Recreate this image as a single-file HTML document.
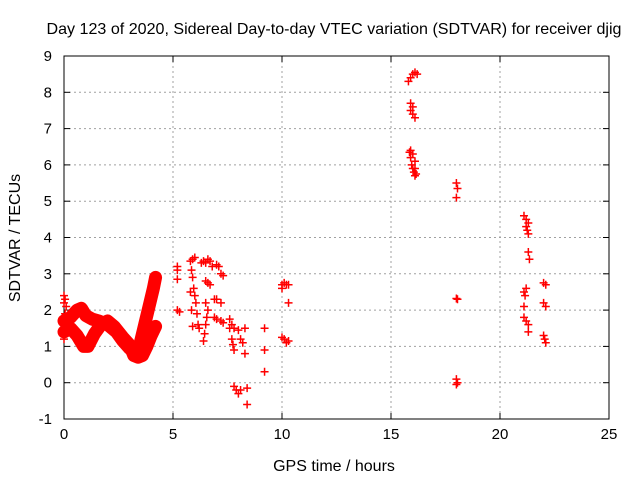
<!DOCTYPE html>
<html><head><meta charset="utf-8"><style>
body{margin:0;background:#fff}
svg{display:block;font-family:"Liberation Sans",sans-serif}
</style></head><body>
<svg id="chart" width="640" height="480">
<text x="334" y="34" text-anchor="middle" font-size="16" textLength="575" lengthAdjust="spacingAndGlyphs">Day 123 of 2020, Sidereal Day-to-day VTEC variation (SDTVAR) for receiver djig</text>
<text x="334" y="471" text-anchor="middle" font-size="16">GPS time / hours</text>
<text transform="translate(20,238) rotate(-90)" text-anchor="middle" font-size="16">SDTVAR / TECUs</text>
<g id="grid"></g><g id="axes"></g><g id="marks"></g>
</svg>
<script>
const xTicks=[0,5,10,15,20,25];
const yTicks=[-1,0,1,2,3,4,5,6,7,8,9];
const bandUpperX=[0,0.3,0.6,0.8,1.0,1.3,1.6,2.0,2.4,2.7,3.0,3.3,3.5,3.7,3.9,4.1,4.2];
const bandUpperY=[1.7,1.8,2.0,2.05,1.85,1.75,1.7,1.6,1.4,1.15,0.95,0.8,1.1,1.6,2.1,2.6,2.9];
const bandLowerX=[0,0.3,0.6,0.9,1.1,1.4,1.7,2.0,2.3,2.7,3.0,3.2,3.4,3.6,3.8,4.0,4.2];
const bandLowerY=[1.4,1.5,1.3,1.0,1.0,1.35,1.6,1.7,1.55,1.25,1.05,0.75,0.7,0.75,1.0,1.3,1.55];
const ptsX=[0,0,0,0,0.05,0.05,0.05,0.1,5.2,5.2,5.2,5.3,5.2,5.8,5.9,6.0,5.85,5.9,5.95,6.0,6.05,6.1,6.15,6.2,5.8,5.85,5.9,6.3,6.4,6.5,6.6,6.7,6.8,6.5,6.6,6.7,6.5,6.6,6.55,6.5,6.45,6.4,6.9,7.0,7.2,7.2,7.3,6.9,7.0,7.2,7.3,7.0,7.1,7.6,7.7,7.6,7.8,7.7,7.75,7.8,8.0,8.1,8.2,7.8,7.9,8.0,8.1,8.3,8.4,8.4,8.3,9.2,9.2,9.2,10.0,10.1,10.2,10.3,10.0,10.3,10.0,10.1,10.2,10.3,15.8,15.9,16.0,16.1,16.2,15.9,15.9,16.0,16.0,16.1,15.85,15.9,15.95,16.0,16.05,16.1,15.9,16.0,16.1,16.1,16.15,18.0,18.05,18.0,18.05,18.0,18.0,18.05,18.0,21.1,21.2,21.2,21.25,21.3,21.3,21.3,21.35,21.1,21.15,21.1,21.1,21.2,21.3,21.3,21.2,22.0,22.1,22.0,22.1,22.0,22.05,22.1];
const ptsY=[2.4,2.2,1.3,1.2,2.3,1.9,1.5,2.1,3.1,2.85,2.0,1.95,3.2,3.35,3.4,3.45,3.1,2.9,2.6,2.4,2.2,1.9,1.6,1.5,2.5,2.0,1.55,3.3,3.35,3.3,3.4,3.35,3.2,2.8,2.75,2.7,2.2,2.0,1.8,1.6,1.35,1.15,2.3,2.3,2.2,3.0,2.95,1.8,1.75,1.7,1.65,3.25,3.2,1.75,1.6,1.5,1.5,1.2,1.05,0.9,1.45,1.2,1.1,-0.1,-0.2,-0.3,-0.2,1.5,-0.15,-0.6,0.8,1.5,0.9,0.3,2.7,2.75,2.7,2.7,2.6,2.2,1.25,1.2,1.1,1.15,8.3,8.4,8.5,8.55,8.5,7.7,7.5,7.6,7.4,7.3,6.35,6.2,6.0,5.9,5.8,5.7,6.4,6.3,6.1,5.9,5.75,5.5,5.35,5.1,2.3,2.32,0.1,0.0,-0.05,4.6,4.5,4.3,4.2,4.4,4.1,3.6,3.4,2.5,2.4,2.1,1.8,1.7,1.6,1.4,2.6,2.75,2.7,2.2,2.1,1.3,1.2,1.1];
const L=64,R=609,T=56,B=419;
const sx=v=>L+(v-0)/25*(R-L);
const sy=v=>B-(v+1)/10*(B-T);
const NS='http://www.w3.org/2000/svg';
function mk(tag,attrs,parent){const e=document.createElementNS(NS,tag);for(const k in attrs)e.setAttribute(k,attrs[k]);parent.appendChild(e);return e;}
const grid=document.getElementById('grid'),axes=document.getElementById('axes'),marks=document.getElementById('marks');
xTicks.forEach(t=>{const x=sx(t);
 if(t>0&&t<25){const g=mk('line',{x1:x,x2:x,y1:T,y2:B,stroke:'#a0a0a0','stroke-dasharray':'2,3'},grid);}
 mk('line',{x1:x,x2:x,y1:B,y2:B-6,stroke:'#000'},axes);mk('line',{x1:x,x2:x,y1:T,y2:T+6,stroke:'#000'},axes);
 const tx=mk('text',{x:x,y:B+20,'text-anchor':'middle','font-size':15},axes);tx.textContent=t;
 });
yTicks.forEach(t=>{const y=sy(t);
 if(t>-1&&t<9){const g=mk('line',{x1:L,x2:R,y1:y,y2:y,stroke:'#a0a0a0','stroke-dasharray':'2,3'},grid);}
 mk('line',{x1:L,x2:L+6,y1:y,y2:y,stroke:'#000'},axes);mk('line',{x1:R,x2:R-6,y1:y,y2:y,stroke:'#000'},axes);
 const tx=mk('text',{x:L-12,y:y+5,'text-anchor':'end','font-size':15},axes);tx.textContent=t;
 });
const fr=mk('rect',{x:L,y:T,width:R-L,height:B-T,fill:'none',stroke:'#000'},axes);

function band(xs,ys,name){const p=mk('polyline',{points:xs.map((x,i)=>sx(x)+','+sy(ys[i])).join(' '),fill:'none',stroke:'#f00','stroke-width':13,'stroke-linejoin':'round','stroke-linecap':'round'},marks);
 }
band(bandUpperX,bandUpperY,'sdtvar-band-upper');
band(bandLowerX,bandLowerY,'sdtvar-band-lower');
ptsX.forEach((x,i)=>{const cx=sx(x),cy=sy(ptsY[i]);
 const p=mk('path',{d:`M${cx-4},${cy}h8M${cx},${cy-4}v8`,stroke:'#f00','stroke-width':1.5,fill:'none'},marks);
 });
</script>
</body></html>
